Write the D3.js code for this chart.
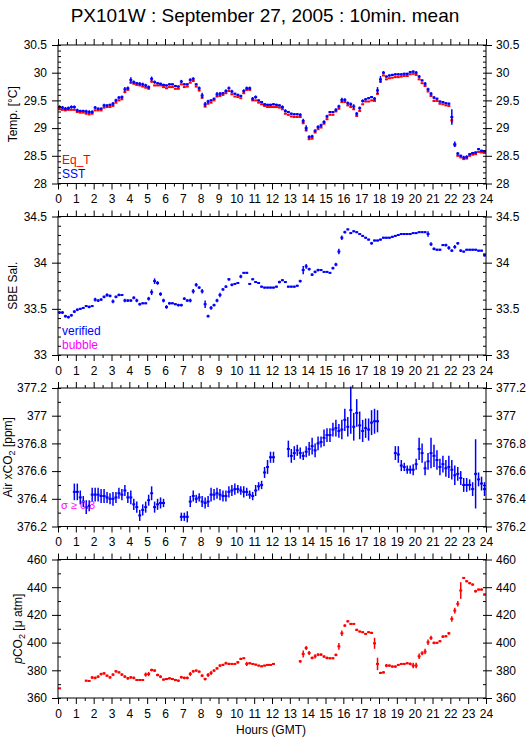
<!DOCTYPE html>
<html>
<head>
<meta charset="utf-8">
<script src="https://cdn.jsdelivr.net/npm/d3@7"></script>
<style>
  body { margin: 0; background: #fff; }
  svg text { font-family: "Liberation Sans", Arial, Helvetica, sans-serif; }
</style>
</head>
<body>
<div id="chart"></div>
<script>
// 10-minute means, one value per slot (144 slots per day), null = no data
const eqT = [
  29.34,29.33,29.32,29.33,29.33,29.33, 29.29,29.28,29.28,29.26,29.25,29.26,
  29.32,29.32,29.32,29.37,29.38,29.38, 29.40,29.46,29.50,29.52,29.65,29.69,
  29.82,29.80,29.78,29.77,29.75,29.73, 29.71,29.84,29.77,29.77,29.77,29.74,
  29.72,29.74,29.74,29.71,29.71,29.79, 29.74,29.75,29.82,29.85,29.75,29.68,
  29.55,29.39,29.44,29.46,29.50,29.57, 29.58,29.60,29.63,29.67,29.61,29.57,
  29.56,29.54,29.63,29.69,29.69,29.50, 29.50,29.46,29.43,29.40,29.38,29.38,
  29.38,29.38,29.37,29.34,29.26,29.24, 29.21,29.20,29.20,29.20,29.09,28.96,
  28.80,28.81,28.92,28.98,29.01,29.08, 29.16,29.24,29.24,29.30,29.35,29.47,
  29.47,29.41,29.38,29.34,29.22,29.31, 29.43,29.48,29.48,29.50,29.49,29.62,
  29.84,29.95,29.88,29.90,29.91,29.92, 29.92,29.93,29.94,29.94,29.97,29.98,
  29.96,29.88,29.81,29.76,29.66,29.58, 29.49,29.49,29.44,29.43,29.41,29.40,
  29.14,28.69,28.50,28.47,28.44,28.45, 28.50,28.52,28.53,28.57,28.56,28.55
];
const eqTSd = [
  .01,.01,.01,.01,.01,.01, .01,.01,.01,.01,.02,.01,
  .01,.01,.01,.01,.01,.01, .01,.01,.01,.01,.02,.01,
  .02,.01,.01,.01,.01,.01, .01,.02,.01,.01,.01,.01,
  .01,.01,.01,.01,.01,.01, .01,.01,.01,.01,.01,.02,
  .02,.02,.01,.01,.01,.01, .01,.01,.01,.01,.01,.01,
  .01,.01,.01,.01,.01,.01, .01,.01,.01,.01,.01,.01,
  .01,.01,.01,.01,.01,.01, .01,.01,.01,.01,.02,.02,
  .01,.01,.01,.01,.01,.01, .01,.01,.01,.01,.01,.01,
  .01,.01,.01,.01,.01,.01, .01,.01,.01,.01,.01,.02,
  .02,.01,.01,.01,.01,.01, .01,.01,.01,.01,.01,.01,
  .01,.01,.01,.01,.01,.01, .01,.01,.01,.01,.01,.01,
  .05,.02,.01,.01,.01,.01, .01,.01,.01,.01,.01,.01
];
const sst = [
  29.38,29.37,29.35,29.36,29.38,29.38, 29.32,29.31,29.31,29.30,29.29,29.29,
  29.37,29.35,29.35,29.41,29.41,29.42, 29.44,29.50,29.55,29.56,29.70,29.72,
  29.87,29.83,29.81,29.80,29.79,29.77, 29.74,29.89,29.83,29.81,29.80,29.78,
  29.77,29.79,29.79,29.76,29.75,29.84, 29.79,29.79,29.87,29.89,29.79,29.72,
  29.59,29.43,29.48,29.50,29.53,29.61, 29.62,29.63,29.67,29.72,29.66,29.62,
  29.60,29.58,29.67,29.72,29.72,29.53, 29.56,29.50,29.47,29.43,29.42,29.42,
  29.43,29.42,29.41,29.38,29.31,29.29, 29.26,29.25,29.25,29.24,29.13,29.00,
  28.84,28.85,28.95,29.02,29.05,29.11, 29.21,29.29,29.29,29.33,29.39,29.51,
  29.51,29.45,29.43,29.39,29.26,29.36, 29.49,29.52,29.54,29.56,29.53,29.68,
  29.88,30.00,29.93,29.95,29.96,29.97, 29.97,29.97,29.98,29.98,30.01,30.02,
  30.00,29.93,29.86,29.80,29.70,29.62, 29.55,29.53,29.48,29.47,29.45,29.44,
  29.20,28.71,28.54,28.50,28.47,28.48, 28.53,28.55,28.56,28.62,28.59,28.58
];
const sstSd = [
  .03,.03,.03,.03,.03,.03, .03,.02,.02,.03,.03,.03,
  .03,.02,.02,.03,.02,.02, .03,.03,.03,.03,.04,.03,
  .05,.03,.02,.03,.03,.03, .03,.04,.03,.02,.02,.02,
  .02,.02,.02,.02,.02,.03, .02,.02,.03,.03,.02,.03,
  .05,.04,.03,.02,.02,.04, .03,.02,.03,.03,.03,.02,
  .02,.02,.03,.03,.03,.03, .03,.02,.02,.02,.02,.02,
  .02,.02,.02,.03,.03,.02, .02,.02,.02,.03,.04,.05,
  .03,.03,.03,.03,.03,.03, .03,.02,.02,.03,.03,.04,
  .03,.03,.03,.04,.03,.03, .03,.02,.02,.02,.03,.06,
  .06,.03,.02,.02,.02,.02, .02,.02,.02,.02,.02,.02,
  .03,.03,.02,.03,.03,.03, .03,.02,.02,.02,.02,.02,
  .14,.05,.03,.02,.03,.03, .02,.02,.02,.02,.02,.02
];
const salinity = [
  33.46,33.46,33.42,33.41,33.43,33.47, 33.49,33.50,33.51,33.53,33.52,33.53,
  33.60,33.59,33.60,33.63,33.65,33.64, 33.58,33.63,33.65,33.65,33.59,33.59,
  33.59,33.62,33.59,33.55,33.56,33.56, 33.61,33.68,33.80,33.78,33.66,33.59,
  33.52,33.56,33.56,33.55,33.54,33.54, 33.61,33.59,33.59,33.69,33.76,33.73,
  33.69,33.55,33.42,33.51,33.54,33.59, 33.65,33.71,33.74,33.82,33.76,33.77,
  33.78,33.85,33.89,33.89,33.77,33.82, 33.79,33.78,33.74,33.73,33.73,33.73,
  33.73,33.74,33.79,33.81,33.79,33.74, 33.74,33.74,33.75,33.80,33.92,33.96,
  33.93,33.87,33.90,33.92,33.92,33.90, 33.90,33.89,33.94,33.98,34.12,34.27,
  34.33,34.36,34.32,34.34,34.33,34.31, 34.29,34.27,34.25,34.21,34.24,34.24,
  34.25,34.27,34.27,34.27,34.28,34.29, 34.30,34.31,34.31,34.31,34.31,34.32,
  34.32,34.33,34.33,34.33,34.31,34.20, 34.15,34.14,34.14,34.19,34.19,34.16,
  34.13,34.17,34.21,34.13,34.12,34.14, 34.14,34.14,34.14,34.13,34.13,34.08
];
const salinitySd = [
  .015,.015,.015,.015,.015,.015, .015,.01,.01,.01,.015,.01,
  .02,.015,.015,.015,.02,.015, .02,.015,.015,.01,.02,.015,
  .015,.015,.02,.015,.01,.01, .02,.03,.03,.02,.02,.02,
  .02,.015,.01,.01,.015,.015, .015,.015,.02,.025,.02,.015,
  .025,.04,.015,.02,.015,.02, .025,.015,.015,.015,.015,.01,
  .01,.02,.01,.01,.01,.01, .01,.01,.01,.01,.01,.01,
  .01,.01,.015,.01,.01,.01, .01,.01,.01,.015,.045,.025,
  .015,.015,.015,.015,.01,.01, .01,.01,.015,.02,.03,.025,
  .015,.01,.01,.01,.01,.01, .01,.01,.01,.015,.01,.01,
  .01,.01,.01,.01,.01,.01, .01,.01,.01,.01,.01,.01,
  .01,.01,.01,.01,.03,.02, .015,.01,.01,.01,.015,.02,
  .015,.02,.015,.015,.01,.01, .01,.01,.01,.01,.01,.015
];
const airXco2 = [
  null,null,null,null,null,376.45, 376.45,376.41,376.38,376.34,376.35,376.43,
  376.43,376.43,376.42,376.42,376.41,376.40, 376.40,376.41,376.44,376.43,376.46,376.41,
  376.41,376.36,376.34,376.28,376.32,376.34, 376.39,376.44,376.34,376.36,376.37,376.37,
  null,null,null,null,null,376.27, 376.27,376.27,376.38,376.42,376.40,376.41,
  376.38,376.37,376.38,376.43,376.43,376.44, 376.43,376.42,376.42,376.45,376.46,376.47,
  376.47,376.46,376.45,376.45,376.43,376.42, 376.46,376.49,376.50,376.59,376.63,376.70,
  376.70,null,null,null,null,376.76, 376.71,376.73,376.75,376.73,376.71,376.74,
  376.76,376.78,376.75,376.80,376.81,376.84, 376.86,376.86,376.90,376.91,376.89,376.90,
  376.97,376.92,377.04,376.92,377.02,376.93, 376.89,376.91,376.90,376.95,376.96,376.96,
  null,null,null,null,null,376.73, 376.72,376.64,376.63,376.61,376.61,376.61,
  376.65,376.76,376.73,376.62,376.67,376.73, 376.71,376.68,376.63,376.65,376.62,376.63,
  376.61,376.57,376.58,376.55,376.50,376.50, 376.50,376.47,376.58,376.54,376.51,376.47
];
const airXco2Sd = [
  null,null,null,null,null,.06, .06,.05,.04,.05,.04,.05,
  .05,.05,.05,.05,.04,.04, .05,.04,.04,.04,.04,.04,
  .05,.04,.04,.04,.04,.04, .04,.05,.04,.04,.04,.03,
  null,null,null,null,null,.03, .03,.04,.04,.04,.03,.03,
  .04,.04,.04,.05,.04,.04, .04,.04,.04,.04,.04,.04,
  .03,.03,.04,.03,.03,.03, .04,.03,.03,.04,.05,.04,
  .04,null,null,null,null,.06, .05,.05,.04,.04,.03,.04,
  .05,.06,.05,.05,.04,.06, .05,.05,.05,.06,.05,.07,
  .08,.07,.17,.10,.10,.10, .08,.07,.08,.09,.09,.08,
  null,null,null,null,null,.05, .06,.04,.03,.03,.03,.04,
  .04,.08,.07,.05,.06,.11, .08,.07,.06,.06,.06,.08,
  .07,.07,.05,.05,.05,.05, .04,.05,.25,.05,.05,.05
];
const pco2 = [
  367.0,null,null,null,null,null, null,null,null,372.5,372.3,374.8,
  374.5,375.4,377.3,377.8,376.1,374.9, 376.9,379.3,378.5,376.9,375.4,374.2,
  374.9,374.5,373.0,373.0,373.0,376.9, 377.3,380.2,379.8,376.6,375.4,373.3,
  373.7,374.2,373.7,373.0,372.5,375.0, 374.5,374.5,377.3,379.3,379.8,379.0,
  376.1,373.7,376.6,378.1,379.8,381.4, 383.4,383.9,385.1,384.6,384.6,384.6,
  385.8,388.2,388.7,384.6,385.1,384.6, 384.1,383.4,382.9,383.4,383.9,383.9,
  384.6,null,null,null,null,null, null,null,null,386.5,391.8,396.1,
  392.5,388.9,390.1,391.3,391.3,389.9, 388.9,388.7,388.7,391.1,397.3,406.7,
  412.3,415.4,413.5,413.5,409.2,408.0, 407.5,406.3,407.5,407.0,399.5,384.6,
  378.1,378.5,383.4,383.4,382.7,382.7, 383.9,384.6,384.6,385.1,384.6,383.4,
  383.4,390.1,392.3,393.5,400.2,403.4, 399.8,399.8,401.0,404.3,404.6,406.7,
  417.1,423.1,428.0,437.6,446.7,444.3, 442.9,441.9,437.1,438.3,438.3,434.7
];
const pco2Sd = [
  0.3,null,null,null,null,null, null,null,null,0.6,0.6,1.0,
  1.0,1.0,1.0,1.0,0.8,1.0, 1.0,1.0,0.8,1.0,1.0,1.0,
  1.0,1.0,0.8,0.6,0.6,1.5, 1.5,1.0,1.0,1.0,1.0,0.8,
  0.8,0.8,0.8,0.8,0.8,1.0, 1.0,1.0,1.5,1.0,0.8,0.8,
  1.0,1.0,1.5,1.5,1.0,1.0, 1.0,0.8,1.0,0.8,0.6,0.6,
  1.0,0.8,0.6,1.5,0.8,0.6, 0.6,0.6,0.6,0.6,0.6,0.6,
  0.6,null,null,null,null,null, null,null,null,1.0,2.5,1.5,
  1.5,1.0,1.5,1.0,1.0,1.0, 1.0,0.8,0.8,1.0,2.5,2.0,
  1.0,0.8,0.6,0.6,0.8,0.6, 0.6,0.6,0.6,0.8,4.0,4.5,
  0.8,0.8,1.2,0.8,0.8,0.8, 0.6,0.6,0.6,0.8,1.0,2.0,
  2.0,2.0,1.5,2.0,2.0,1.5, 1.0,0.8,0.8,1.0,0.8,1.0,
  2.0,2.0,2.0,6.0,0.6,0.8, 0.8,0.8,1.0,0.8,0.8,0.8
];

const tempTicks = [28, 28.5, 29, 29.5, 30, 30.5];
const salTicks = [33, 33.5, 34, 34.5];
const xco2Ticks = [376.2, 376.4, 376.6, 376.8, 377, 377.2];
const pco2Ticks = [360, 380, 400, 420, 440, 460];
const hourTicks = d3.range(0, 25);

const red = "#ff0000";
const blue = "#0000ff";
const magenta = "#ff00ff";

const width = 529;
const height = 739;
const left = 58;
const right = 486;
const panelTop = 45;
const panelStep = 171.5;
const panelHeight = 138.5;

const svg = d3.select("#chart").append("svg")
  .attr("width", width)
  .attr("height", height);

svg.append("rect").attr("width", width).attr("height", height).attr("fill", "#fff");

svg.append("text")
  .attr("x", 265).attr("y", 22)
  .attr("text-anchor", "middle")
  .attr("font-size", 19)
  .text("PX101W : September 27, 2005 : 10min. mean");

const x = d3.scaleLinear().domain([0, 24]).range([left, right]);
const slotHours = 10 / 60;

const panels = [
  { domain: [28, 30.5], ticks: tempTicks, minorStep: 0.1, labelX: 17, label: [["Temp. [°C]"]],
    series: [{ values: eqT, sd: eqTSd, color: red }, { values: sst, sd: sstSd, color: blue }],
    legend: [["Eq_T", red], ["SST", blue]] },
  { domain: [33, 34.5], ticks: salTicks, minorStep: 0.1, labelX: 17, label: [["SBE Sal."]],
    series: [{ values: salinity, sd: salinitySd, color: blue }],
    legend: [["verified", blue], ["bubble", magenta]] },
  { domain: [376.2, 377.2], ticks: xco2Ticks, minorStep: 0.1, labelX: 12,
    label: [["Air xCO"], ["2", "sub"], [" [ppm]", "up"]],
    series: [{ values: airXco2, sd: airXco2Sd, color: blue }],
    note: "σ ≥ 0.3" },
  { domain: [360, 460], ticks: pco2Ticks, minorStep: 10, labelX: 22,
    label: [["p", "italic"], ["CO"], ["2", "sub"], [" [μ atm]", "up"]],
    series: [{ values: pco2, sd: pco2Sd, color: red }] }
];

panels.forEach((panel, index) => {
  const top = panelTop + index * panelStep;
  const bottom = top + panelHeight;
  const y = d3.scaleLinear().domain(panel.domain).range([bottom, top]);
  const g = svg.append("g");
  const minor = d3.range(panel.domain[0], panel.domain[1] + 1e-6, panel.minorStep);
  const halfHours = d3.range(0.5, 24, 1);

  // data: horizontal bar over the 10-min slot, vertical bar = ±σ
  panel.series.forEach((series) => {
    const points = series.values
      .map((value, i) => ({ t: (i + 0.5) * slotHours, value, sd: series.sd[i] }))
      .filter((d) => d.value !== null);
    const marks = g.append("g").attr("stroke", series.color);
    marks.selectAll("line.h").data(points).join("line")
      .attr("class", "h")
      .attr("stroke-width", 2)
      .attr("x1", (d) => x(d.t - slotHours / 2))
      .attr("x2", (d) => x(d.t + slotHours / 2))
      .attr("y1", (d) => y(d.value))
      .attr("y2", (d) => y(d.value));
    marks.selectAll("line.v").data(points).join("line")
      .attr("class", "v")
      .attr("stroke-width", 1.5)
      .attr("x1", (d) => x(d.t))
      .attr("x2", (d) => x(d.t))
      .attr("y1", (d) => y(d.value - d.sd))
      .attr("y2", (d) => y(d.value + d.sd));
  });

  const axisStyle = (sel) => {
    sel.selectAll("text").attr("font-size", 12).attr("fill", "#000");
    sel.selectAll("line").attr("stroke", "#000");
    sel.select(".domain").remove();
  };

  // y axes: labelled majors outward, minors inward
  g.append("g").attr("transform", `translate(${left},0)`)
    .call(d3.axisLeft(y).tickValues(panel.ticks).tickSize(6).tickPadding(5).tickFormat((d) => d))
    .call(axisStyle);
  g.append("g").attr("transform", `translate(${left},0)`)
    .call(d3.axisRight(y).tickValues(minor).tickSize(3).tickFormat(""))
    .call(axisStyle);
  g.append("g").attr("transform", `translate(${right},0)`)
    .call(d3.axisRight(y).tickValues(panel.ticks).tickSize(6).tickPadding(4).tickFormat((d) => d))
    .call(axisStyle);
  g.append("g").attr("transform", `translate(${right},0)`)
    .call(d3.axisLeft(y).tickValues(minor).tickSize(3).tickFormat(""))
    .call(axisStyle);

  // x axes: hours long, half hours short, all outward
  g.append("g").attr("transform", `translate(0,${top})`)
    .call(d3.axisTop(x).tickValues(hourTicks).tickSize(6).tickFormat(""))
    .call(axisStyle);
  g.append("g").attr("transform", `translate(0,${top})`)
    .call(d3.axisTop(x).tickValues(halfHours).tickSize(3).tickFormat(""))
    .call(axisStyle);
  g.append("g").attr("transform", `translate(0,${bottom})`)
    .call(d3.axisBottom(x).tickValues(hourTicks).tickSize(6).tickPadding(5).tickFormat((d) => d))
    .call(axisStyle);
  g.append("g").attr("transform", `translate(0,${bottom})`)
    .call(d3.axisBottom(x).tickValues(halfHours).tickSize(3).tickFormat(""))
    .call(axisStyle);

  g.append("rect")
    .attr("x", left).attr("y", top)
    .attr("width", right - left).attr("height", bottom - top)
    .attr("fill", "none").attr("stroke", "#000");

  const label = g.append("text")
    .attr("transform", `translate(${panel.labelX},${(top + bottom) / 2}) rotate(-90)`)
    .attr("text-anchor", "middle")
    .attr("font-size", 12);
  panel.label.forEach(([part, style]) => {
    const span = label.append("tspan").text(part);
    if (style === "sub") span.attr("font-size", 9).attr("dy", 3);
    if (style === "up") span.attr("dy", -3);
    if (style === "italic") span.attr("font-style", "italic");
  });

  if (panel.legend) {
    panel.legend.forEach(([name, color], i) => {
      g.append("text")
        .attr("x", 62).attr("y", bottom - 20 + i * 14)
        .attr("font-size", 12)
        .attr("fill", color)
        .text(name);
    });
  }
  if (panel.note) {
    g.append("text")
      .attr("x", 61).attr("y", bottom - 18)
      .attr("font-size", 11)
      .attr("fill", magenta)
      .text(panel.note);
  }
});

svg.append("text")
  .attr("x", 271).attr("y", 734)
  .attr("text-anchor", "middle")
  .attr("font-size", 12)
  .text("Hours (GMT)");
</script>
</body>
</html>
